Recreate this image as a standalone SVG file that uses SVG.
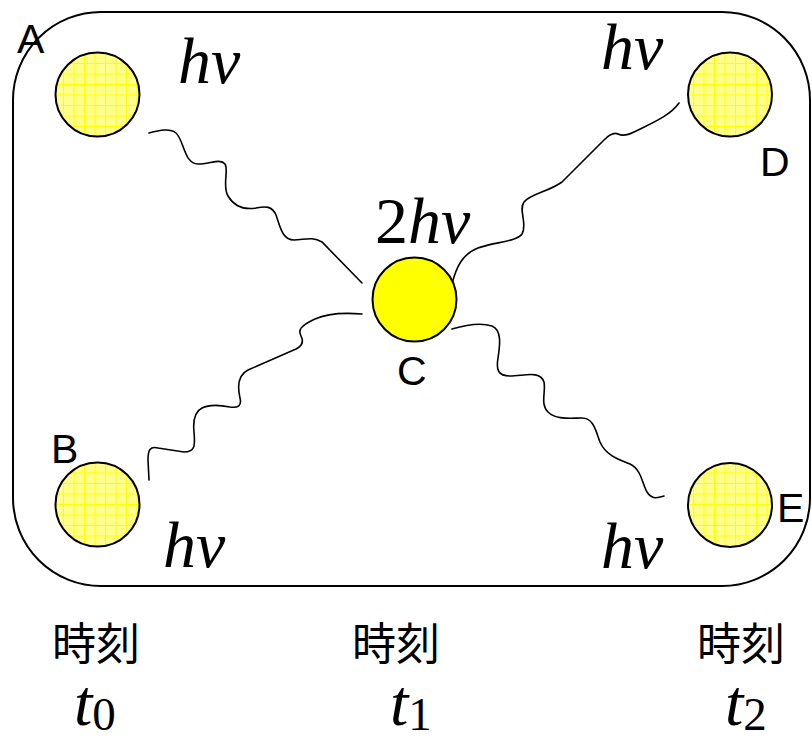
<svg xmlns="http://www.w3.org/2000/svg" width="812" height="740" viewBox="0 0 812 740">
<style>
.frame{fill:none;stroke:#000;stroke-width:2}
.atom{stroke:#000;stroke-width:2;fill:url(#grid)}
.center{stroke:#000;stroke-width:2;fill:#ffff00}
.wave{fill:none;stroke:#000;stroke-width:1.6;stroke-linecap:round}
.lbl{font-family:"Liberation Sans",Arial,sans-serif;font-size:41px;fill:#000}
.math{font-family:"Liberation Serif","Times New Roman",serif;font-style:italic;font-size:66px;fill:#000}
.mathup{font-family:"Liberation Serif","Times New Roman",serif;font-style:normal;fill:#000}
.jp{font-family:"Noto Sans CJK JP","Noto Sans CJK SC",sans-serif;font-size:44px;fill:#000}
</style>
<defs>
<pattern id="grid" patternUnits="userSpaceOnUse" width="10.5" height="10.5">
<rect width="10.5" height="10.5" fill="#ffff8c"/>
<path d="M0,0.5H10.5M0.5,0V10.5" stroke="#ffff00" stroke-width="1"/>
</pattern>
</defs>
<rect class="frame" x="13" y="12" width="797" height="574" rx="88" ry="88"/>
<g id="connectors">
<path class="wave" d="M149,133 C160,130 170,128 176,133 C184,140 184,164 198,164 C210,164 220,158 225,164 C229,170 222,186 228,196 C234,206 244,210 256,208 C266,206 272,206 276,215 C280,226 282,240 294,240 C304,240 312,236 322,242 L362,283"/>
<path class="wave" d="M452,284 C456,268 462,254 478,248 C494,242 516,242 522,234 C528,224 518,210 524,202 C530,194 548,192 562,182 L604,140 C610,134 614,132 618,134 C622,136 626,136 634,132 C650,124 670,116 679,103"/>
<path class="wave" d="M362,314 C350,313 330,312 315,319 C300,326 298,330 301,336 C304,342 302,346 296,349 L248,370 C238,375 237,385 240,398 C242,406 238,408 230,407 C220,405 210,404 202,408 C194,412 193,422 194,432 C195,444 196,452 184,452 L158,448 C150,446 148,450 148,460 L149,480"/>
<path class="wave" d="M452,329 C462,326 480,322 492,326 C502,330 500,345 498,358 C496,370 498,376 510,376 C524,376 540,370 544,382 C546,392 540,404 548,412 C556,420 570,418 582,418 C594,418 596,432 600,442 C606,456 620,460 630,464 C642,470 642,484 647,492 C652,500 658,498 664,496"/>
</g>
<g id="A">
<circle class="atom" cx="97.5" cy="94.5" r="42"/>
<text class="lbl" x="17" y="53">A</text>
<text class="math" x="178" y="83">hν</text>
</g>
<g id="D">
<circle class="atom" cx="730" cy="94.5" r="42"/>
<text class="lbl" x="760" y="176">D</text>
<text class="math" x="601" y="69">hν</text>
</g>
<g id="C">
<circle class="center" cx="414.5" cy="299.5" r="42"/>
<text class="lbl" x="397" y="385">C</text>
<text class="math" x="375" y="243"><tspan class="mathup">2</tspan>hν</text>
</g>
<g id="B">
<circle class="atom" cx="97.5" cy="504.5" r="42"/>
<text class="lbl" x="51" y="463">B</text>
<text class="math" x="163" y="567">hν</text>
</g>
<g id="E">
<circle class="atom" cx="730" cy="505" r="42"/>
<text class="lbl" x="777" y="522">E</text>
<text class="math" x="601" y="568">hν</text>
</g>
<g id="t0">
<text class="jp" x="52" y="660">時刻</text>
<text class="math" x="74" y="725" font-size="78">t<tspan class="mathup" font-size="47" dy="5">0</tspan></text>
</g>
<g id="t1">
<text class="jp" x="352" y="660">時刻</text>
<text class="math" x="390" y="725" font-size="78">t<tspan class="mathup" font-size="47" dy="5">1</tspan></text>
</g>
<g id="t2">
<text class="jp" x="697" y="660">時刻</text>
<text class="math" x="725" y="725" font-size="78">t<tspan class="mathup" font-size="47" dy="5">2</tspan></text>
</g>
</svg>
